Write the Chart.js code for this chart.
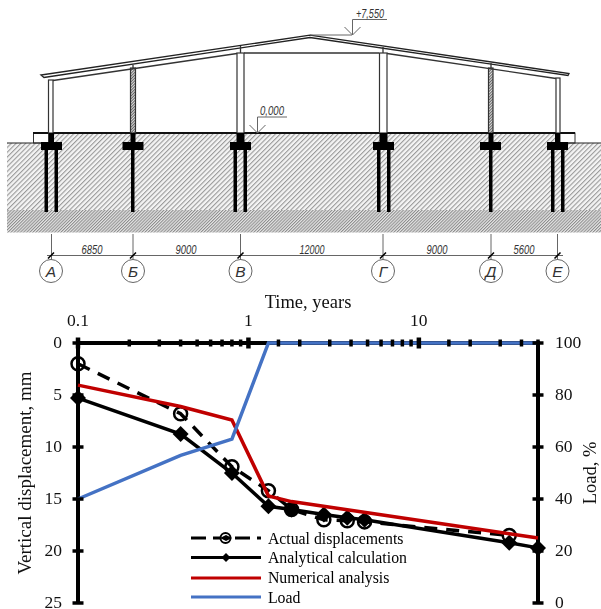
<!DOCTYPE html>
<html>
<head>
<meta charset="utf-8">
<script src="https://cdn.jsdelivr.net/npm/chart.js@4/dist/chart.umd.min.js"></script>
<style>
html,body{margin:0;padding:0;background:#fff;width:601px;height:609px;overflow:hidden;position:relative}
#drawing{position:absolute;left:0;top:0}
#chartBox{position:absolute;left:0;top:290px;width:601px;height:335px}
text{font-family:"Liberation Sans",sans-serif;font-style:italic;fill:#333}
</style>
</head>
<body>
<svg id="drawing" width="601" height="290" viewBox="0 0 601 290" xmlns="http://www.w3.org/2000/svg">
<defs>
<pattern id="h1" width="3.4" height="3.4" patternUnits="userSpaceOnUse" patternTransform="rotate(45)"><rect width="3.4" height="3.4" fill="#f4f4f4"/><rect width="1.1" height="3.4" fill="#9a9a9a"/></pattern>
<pattern id="h2" width="2.2" height="2.2" patternUnits="userSpaceOnUse" patternTransform="rotate(45)"><rect width="2.2" height="2.2" fill="#e4e4e4"/><rect width="1" height="2.2" fill="#8c8c8c"/></pattern>
<pattern id="h3" width="2" height="2" patternUnits="userSpaceOnUse" patternTransform="rotate(45)"><rect width="2" height="2" fill="#ddd"/><rect width="1" height="2" fill="#666"/></pattern>
</defs>
<!-- ground -->
<polygon points="7,143 33,143 33,133 575,133 575,143 601,143 601,210 7,210" fill="url(#h1)"/>
<rect x="7" y="210" width="594" height="22.5" fill="url(#h2)"/>
<!-- plinth blocks -->
<rect x="33.5" y="133" width="15" height="10" fill="#fff" stroke="#333" stroke-width="1"/>
<rect x="560" y="133" width="15" height="10" fill="#fff" stroke="#333" stroke-width="1"/>
<path d="M7 143H41M568 143H601" stroke="#222" stroke-width="1.2"/>
<path d="M33 133H575" stroke="#111" stroke-width="1.8"/>
<!-- columns -->
<g stroke="#333" stroke-width="1.2" fill="#fff">
<rect x="48.5" y="80" width="4.5" height="53"/>
<rect x="130.5" y="68" width="5" height="65" fill="url(#h3)"/>
<rect x="237" y="53" width="7" height="80"/>
<rect x="379.5" y="53" width="7.5" height="80"/>
<rect x="488.5" y="68" width="4.5" height="65" fill="url(#h3)"/>
<rect x="556" y="78" width="4" height="55"/>
</g>
<!-- roof -->
<polygon points="41,75 44,77.5 310,37.5 568,75.5 569,73.5 310,35.2" fill="#fff" stroke="#222" stroke-width="1.3"/>
<path d="M53 80.5L237 53.5M244 53H379M387 53.5L556 78.5M240.5 46V53M383 47V53M133 65V68M491 63V68" stroke="#333" stroke-width="1.3" fill="none"/>
<!-- foundations -->
<g fill="#000">
<rect x="41" y="142" width="21" height="8"/><rect x="49" y="133" width="5" height="9"/>
<rect x="44.5" y="150" width="3.5" height="62"/><rect x="54.5" y="150" width="3.5" height="62"/>
<rect x="122.5" y="142" width="21" height="8"/><rect x="130.5" y="133" width="5" height="9"/>
<rect x="131" y="150" width="3.5" height="62"/>
<rect x="230" y="142" width="21" height="8"/><rect x="236.5" y="133" width="8" height="9"/>
<rect x="233.5" y="150" width="3.5" height="62"/><rect x="243.5" y="150" width="3.5" height="62"/>
<rect x="373" y="142" width="21" height="8"/><rect x="379.5" y="133" width="8" height="9"/>
<rect x="377" y="150" width="3.5" height="62"/><rect x="387" y="150" width="3.5" height="62"/>
<rect x="480" y="142" width="21" height="8"/><rect x="488.5" y="133" width="5" height="9"/>
<rect x="489" y="150" width="3.5" height="62"/>
<rect x="547" y="142" width="21" height="8"/><rect x="555" y="133" width="5" height="9"/>
<rect x="551" y="150" width="3.5" height="62"/><rect x="561" y="150" width="3.5" height="62"/>
</g>
<!-- level marks -->
<g stroke="#666" stroke-width="1" fill="none">
<path d="M257.5 133V117H287M249.5 125L257.5 133L265.5 125"/>
<path d="M352.5 35V19.5H387M344.5 27L352.5 35L360.5 27M310 35H352"/>
<!-- dimension line -->
<path d="M47 255.5H563M51.5 234V260M133 234V260M240.5 234V260M383 234V260M491 234V260M557.5 234V260"/>
<circle cx="51" cy="271" r="11.5"/><circle cx="133" cy="271" r="11.5"/><circle cx="240.5" cy="271" r="11.5"/>
<circle cx="383" cy="271" r="11.5"/><circle cx="491" cy="271" r="11.5"/><circle cx="557.5" cy="271" r="11.5"/>
</g>
<path d="M48 258.5L54 252.5M130 258.5L136 252.5M237.5 258.5L243.5 252.5M380 258.5L386 252.5M488 258.5L494 252.5M554.5 258.5L560.5 252.5" stroke="#000" stroke-width="1.5"/>
<g font-size="12" text-anchor="middle" lengthAdjust="spacingAndGlyphs">
<text x="272" y="115" textLength="24" lengthAdjust="spacingAndGlyphs">0,000</text>
<text x="370" y="18" textLength="28" lengthAdjust="spacingAndGlyphs">+7,550</text>
<text x="92" y="254" textLength="21" lengthAdjust="spacingAndGlyphs">6850</text>
<text x="186" y="254" textLength="21" lengthAdjust="spacingAndGlyphs">9000</text>
<text x="312" y="254" textLength="25" lengthAdjust="spacingAndGlyphs">12000</text>
<text x="437" y="254" textLength="21" lengthAdjust="spacingAndGlyphs">9000</text>
<text x="524" y="254" textLength="21" lengthAdjust="spacingAndGlyphs">5600</text>
</g>
<g font-size="15.5" text-anchor="middle">
<text x="51" y="276.5">А</text><text x="133" y="276.5">Б</text><text x="240.5" y="276.5">В</text>
<text x="383" y="276.5">Г</text><text x="491" y="276.5">Д</text><text x="557.5" y="276.5">Е</text>
</g>
</svg>
<div id="chartBox"><canvas id="c" width="601" height="335"></canvas></div>
<script>
const seriesNames = ["Actual displacements", "Analytical calculation", "Numerical analysis", "Load"];
const actualTimes = [0.1, 0.4, 0.8, 1.31, 1.79, 2.77, 3.8, 4.8, 33.9];
const actualDisplacement = [2.0, 6.8, 11.9, 14.2, 16.0, 17.0, 17.1, 17.2, 18.5];
const analyticalTimes = [0.1, 0.4, 0.8, 1.31, 1.79, 2.77, 3.8, 4.8, 33.9, 50];
const analyticalDisplacement = [5.3, 8.75, 12.5, 15.7, 16.0, 16.5, 16.8, 17.0, 19.2, 19.7];
const numericalTimes = [0.1, 0.4, 0.8, 1.31, 1.79, 50];
const numericalDisplacement = [4.05, 6.1, 7.4, 14.7, 15.25, 18.75];
const loadTimes = [0.1, 0.4, 0.8, 1.31, 50];
const loadPercent = [40, 56.8, 63, 100, 100];
const timeLabels = ["0.1", "1", "10"];
const loadTitle = "Load, %";
const seriesColors = ["#000000", "#000000", "#c00000", "#4472c4"];

const pts = (xs, ys) => xs.map((x, i) => ({x, y: ys[i]}));
const serif = '"Liberation Serif","Times New Roman",serif';

const crossTicks = {
  id: 'crossTicks',
  afterDatasetsDraw(chart) {
    const {ctx, chartArea: a, scales} = chart;
    ctx.save();
    ctx.strokeStyle = '#000';
    for (const id of ['y', 'yLoad']) {
      const s = scales[id], x = id === 'y' ? a.left : a.right;
      ctx.lineWidth = 3.5;
      s.ticks.forEach(t => {
        const p = s.getPixelForValue(t.value);
        ctx.beginPath(); ctx.moveTo(x - 5.5, p); ctx.lineTo(x + 5.5, p); ctx.stroke();
      });
    }
    const sx = scales.x;
    sx.ticks.forEach(t => {
      const p = sx.getPixelForValue(t.value);
      const decade = timeLabels.includes(String(t.value));
      const h = decade ? 5.5 : 3.5;
      ctx.lineWidth = decade ? 4.5 : 3.5;
      ctx.beginPath(); ctx.moveTo(p, a.top - h); ctx.lineTo(p, a.top + h); ctx.stroke();
    });
    ctx.restore();
  }
};

const rightTitle = {
  id: 'rightTitle',
  afterDraw(chart) {
    const {ctx, chartArea: a} = chart;
    ctx.save();
    ctx.translate(591, (a.top + a.bottom) / 2);
    ctx.rotate(-Math.PI / 2);
    ctx.font = '18.5px ' + serif;
    ctx.fillStyle = '#111';
    ctx.textAlign = 'center';
    ctx.textBaseline = 'middle';
    ctx.fillText(loadTitle, 0, 0);
    ctx.restore();
  }
};

const legendPlace = {
  id: 'legendPlace',
  beforeDraw(chart) {
    const l = chart.legend;
    const w = l.right - l.left, h = l.bottom - l.top;
    l.left = 186; l.right = l.left + w;
    l.top = 237.5; l.bottom = l.top + h;
  },
  afterDraw(chart) {
    const {ctx} = chart;
    const x0 = 191, x1 = 261;
    const rows = [248, 267.5, 288, 307];
    ctx.save();
    rows.forEach((y, i) => {
      ctx.strokeStyle = seriesColors[i];
      ctx.lineWidth = 3;
      ctx.setLineDash(i === 0 ? [15, 7] : []);
      ctx.beginPath(); ctx.moveTo(x0, y); ctx.lineTo(x1, y); ctx.stroke();
      ctx.setLineDash([]);
      const cx = (x0 + x1) / 2;
      if (i === 0) {
        ctx.fillStyle = '#fff'; ctx.lineWidth = 2;
        ctx.beginPath(); ctx.arc(cx - .5, y, 5, 0, 7); ctx.fill(); ctx.stroke();
        ctx.fillStyle = '#000';
        ctx.beginPath(); ctx.moveTo(cx - 6, y); ctx.lineTo(cx, y - 3); ctx.lineTo(cx + 6, y); ctx.lineTo(cx, y + 3); ctx.closePath(); ctx.fill();
      }
      if (i === 1) {
        ctx.fillStyle = '#000';
        ctx.beginPath(); ctx.moveTo(cx - 4.5, y); ctx.lineTo(cx, y - 4.5); ctx.lineTo(cx + 4.5, y); ctx.lineTo(cx, y + 4.5); ctx.closePath(); ctx.fill();
      }
    });
    ctx.restore();
  }
};

new Chart(document.getElementById('c'), {
  type: 'line',
  data: {
    datasets: [
      {label: seriesNames[0], data: pts(actualTimes, actualDisplacement), yAxisID: 'y', order: 3, clip: false,
       borderColor: seriesColors[0], borderWidth: 3.5, borderDash: [13, 9], backgroundColor: 'transparent',
       pointStyle: 'circle', pointRadius: 6.5, pointBorderWidth: 2.5, pointBorderColor: '#000', pointBackgroundColor: 'transparent'},
      {label: seriesNames[1], data: pts(analyticalTimes, analyticalDisplacement), yAxisID: 'y', order: 2, clip: false,
       borderColor: seriesColors[1], borderWidth: 3.5, backgroundColor: '#000',
       pointStyle: 'rectRot', pointRadius: 8, pointBorderWidth: 0, pointBackgroundColor: '#000'},
      {label: seriesNames[2], data: pts(numericalTimes, numericalDisplacement), yAxisID: 'y', order: 1, clip: false,
       borderColor: seriesColors[2], borderWidth: 3.5, pointRadius: 0},
      {label: seriesNames[3], data: pts(loadTimes, loadPercent), yAxisID: 'yLoad', order: 0, clip: false,
       borderColor: seriesColors[3], borderWidth: 3.5, pointRadius: 0}
    ]
  },
  options: {
    responsive: false, animation: false, devicePixelRatio: 1,
    layout: {padding: {left: 15, right: 10, top: 0, bottom: 22}},
    elements: {line: {tension: 0, borderCapStyle: 'butt'}},
    plugins: {
      tooltip: {enabled: false},
      legend: {
        display: true, position: 'chartArea', align: 'start',
        labels: {
          font: {family: serif, size: 15.8}, color: '#1a1a1a', boxWidth: 70, boxHeight: 12, padding: 4,
          generateLabels: c => c.data.datasets.map((d, i) => ({
            text: d.label, fillStyle: 'transparent', strokeStyle: 'transparent', lineWidth: 0, datasetIndex: i
          }))
        }
      }
    },
    scales: {
      x: {
        type: 'logarithmic', position: 'top', min: 0.1, max: 50,
        grid: {display: false}, border: {display: true, color: '#000', width: 4},
        afterFit: s => { s.height = 53; },
        title: {display: true, text: 'Time, years', color: '#111', font: {family: serif, size: 18.5}, padding: {top: 2, bottom: 0}},
        ticks: {
          autoSkip: false, maxRotation: 0, minRotation: 0, padding: 3, color: '#111',
          font: {family: serif, size: 17.5},
          callback: v => timeLabels.includes(String(v)) ? String(v) : ''
        }
      },
      y: {
        type: 'linear', position: 'left', reverse: true, min: 0, max: 25,
        grid: {display: false}, border: {display: true, color: '#000', width: 4},
        afterFit: s => { s.width = 63; },
        title: {display: true, text: 'Vertical displacement, mm', color: '#111', font: {family: serif, size: 19}, padding: {top: 0, bottom: 0}},
        ticks: {stepSize: 5, padding: 8, color: '#111', font: {family: serif, size: 17.5}}
      },
      yLoad: {
        type: 'linear', position: 'right', min: 0, max: 100,
        grid: {display: false}, border: {display: true, color: '#000', width: 4},
        afterFit: s => { s.width = 53; },
        ticks: {stepSize: 20, padding: 9, color: '#111', font: {family: serif, size: 17.5}}
      }
    }
  },
  plugins: [crossTicks, rightTitle, legendPlace]
});
</script>
</body>
</html>
